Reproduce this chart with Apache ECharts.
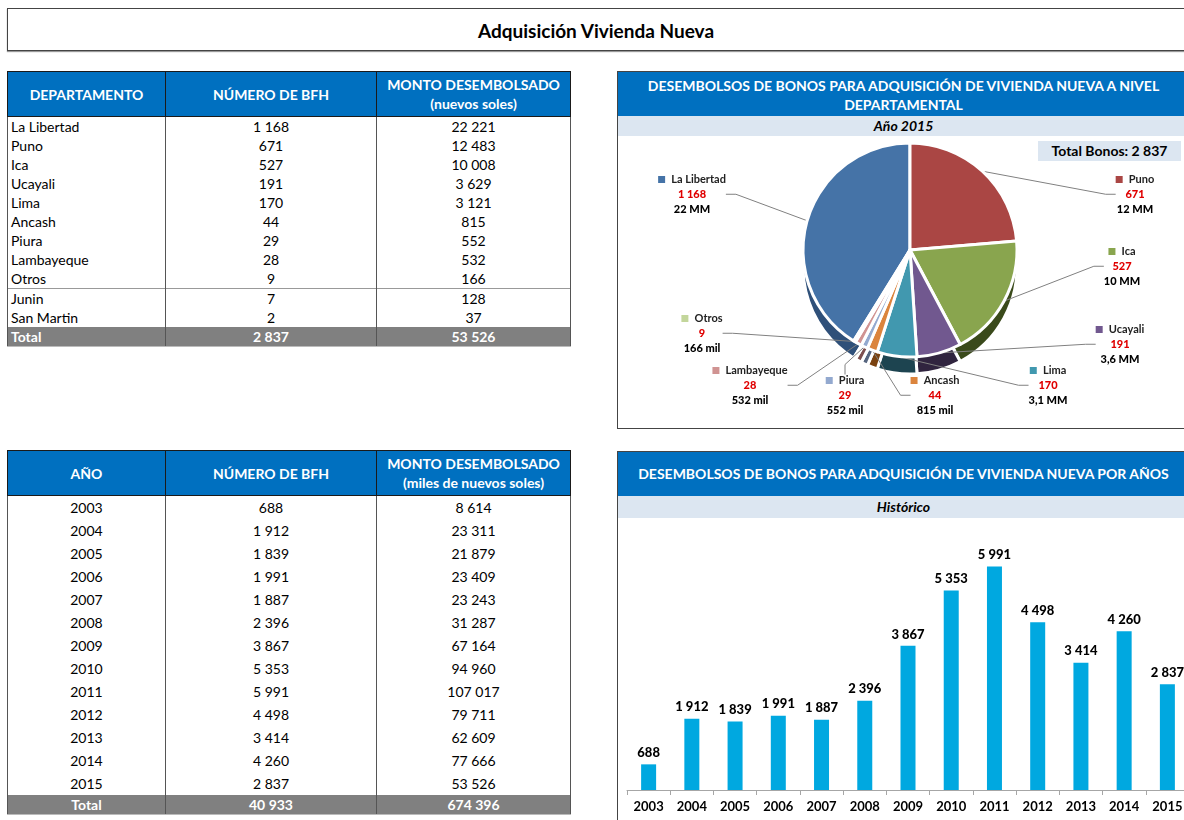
<!DOCTYPE html>
<html>
<head>
<meta charset="utf-8">
<script src="https://cdn.jsdelivr.net/npm/echarts@6/dist/echarts.min.js"></script>
<style>
  body { margin: 0; background: #fff; font-family: Lato, "Open Sans", sans-serif; }
  .hoja { position: relative; width: 1184px; height: 820px; overflow: hidden; }
  .titulo {
    position: absolute; left: 7px; top: 8px; width: 1190px; height: 43px;
    border: 1px solid #444; box-shadow: 0 1px 1px #999;
    font-weight: bold; font-size: 19px; line-height: 43px; text-align: center; padding-right: 12px; box-sizing: border-box;
  }
  .tabla { position: absolute; border-collapse: collapse; table-layout: fixed; width: 563px; font-size: 14px; color: #000; }
  .tabla th { background: #0070c0; color: #fff; font-weight: bold; font-size: 14px; border: 1px solid #1a1a1a; line-height: 19px; padding: 0; height: 44px; }
  .tabla td { border-left: 1px solid #555; border-right: 1px solid #555; padding: 0 3px; text-align: center; white-space: nowrap; }
  .tabla td:first-child { text-align: left; }
  .tabla.anios td:first-child { text-align: center; }
  .tabla tr.sep td { border-top: 1px solid #999; }
  .tabla tr.total td { background: #808080; color: #fff; font-weight: bold; height: 19px; border-bottom: 1px solid #bbb; }
  #tablaDep td { height: 19px; line-height: 19px; }
  #tablaAnio td { height: 23px; line-height: 23px; }
  #tablaAnio tr.total td { height: 19px; line-height: 19px; }
  .panel { position: absolute; left: 617px; width: 573px; border: 1px solid #444; box-sizing: border-box; }
  .cab { background: #0070c0; color: #fff; font-weight: bold; font-size: 14px; text-align: center; white-space: nowrap; }
  .sub { background: #dce6f1; font-weight: bold; font-style: italic; font-size: 14px; text-align: center; }
  .totalBonos { position: absolute; left: 420px; top: 69px; width: 143px; height: 20px; line-height: 20px; background: #dce6f1; font-weight: bold; font-size: 14px; text-align: center; z-index: 2; }
</style>
</head>
<body>
<div class="hoja">
  <div class="titulo">Adquisición Vivienda Nueva</div>

  <table class="tabla" id="tablaDep" style="left:7px; top:71px;">
    <colgroup><col style="width:158px"><col style="width:211px"><col style="width:194px"></colgroup>
    <thead><tr><th>DEPARTAMENTO</th><th>NÚMERO DE BFH</th><th>MONTO DESEMBOLSADO<br>(nuevos soles)</th></tr></thead>
    <tbody></tbody>
  </table>

  <table class="tabla anios" id="tablaAnio" style="left:7px; top:450px;">
    <colgroup><col style="width:158px"><col style="width:211px"><col style="width:194px"></colgroup>
    <thead><tr><th>AÑO</th><th>NÚMERO DE BFH</th><th>MONTO DESEMBOLSADO<br>(miles de nuevos soles)</th></tr></thead>
    <tbody></tbody>
  </table>

  <div class="panel" style="top:71px; height:358px;">
    <div class="cab" style="height:44px; line-height:19px; padding-top:4px; box-sizing:border-box;">DESEMBOLSOS DE BONOS PARA ADQUISICIÓN DE VIVIENDA NUEVA A NIVEL<br>DEPARTAMENTAL</div>
    <div class="sub" style="height:20px; line-height:20px;">Año 2015</div>
    <div class="totalBonos" id="totalBonos"></div>
    <div id="pie" style="position:absolute; left:0; top:64px; width:571px; height:292px;"></div>
  </div>

  <div class="panel" style="top:451px; height:380px;">
    <div class="cab" style="height:44px; line-height:44px;">DESEMBOLSOS DE BONOS PARA ADQUISICIÓN DE VIVIENDA NUEVA POR AÑOS</div>
    <div class="sub" style="height:22px; line-height:22px;">Histórico</div>
    <div id="barras" style="position:absolute; left:0; top:66px; width:571px; height:303px;"></div>
  </div>
</div>

<script>
// datos por departamento (2015)
const departamentos = ["La Libertad", "Puno", "Ica", "Ucayali", "Lima", "Ancash", "Piura", "Lambayeque", "Otros"];
const bfhDep = [1168, 671, 527, 191, 170, 44, 29, 28, 9];
const montoDep = [22221, 12483, 10008, 3629, 3121, 815, 552, 532, 166];
// detalle de "Otros"
const otrosNombres = ["Junin", "San Martin"];
const otrosBfh = [7, 2];
const otrosMonto = [128, 37];
const totalDep = [2837, 53526];

// datos por año
const anios = ["2003", "2004", "2005", "2006", "2007", "2008", "2009", "2010", "2011", "2012", "2013", "2014", "2015"];
const bfhAnio = [688, 1912, 1839, 1991, 1887, 2396, 3867, 5353, 5991, 4498, 3414, 4260, 2837];
const montoAnio = [8614, 23311, 21879, 23409, 23243, 31287, 67164, 94960, 107017, 79711, 62609, 77666, 53526];

const coloresPie = ["#4573a7", "#aa4644", "#89a54e", "#71588f", "#4198af", "#db843d", "#93a9cf", "#d09392", "#b9cd96"];
const coloresLado = ["#2f5079", "#5e1f1e", "#3a4a1b", "#30243f", "#1d4450", "#7a4210", "#56657f", "#7e4f4e", "#7d8e5f"];
const colorBarra = "#00a8e0";

// separador de miles con espacio
function fmt(n) {
  return String(n).replace(/\B(?=(\d{3})+(?!\d))/g, " ");
}
function montoCorto(v) {
  if (v >= 1000) {
    const mm = v / 1000;
    return (mm >= 10 ? Math.round(mm) : mm.toFixed(1).replace(".", ",")) + " MM";
  }
  return v + " mil";
}

// tablas
let filas = "";
departamentos.forEach((d, i) => {
  filas += `<tr><td>${d}</td><td>${fmt(bfhDep[i])}</td><td>${fmt(montoDep[i])}</td></tr>`;
});
otrosNombres.forEach((d, i) => {
  filas += `<tr class="${i === 0 ? "sep" : ""}"><td>${d}</td><td>${fmt(otrosBfh[i])}</td><td>${fmt(otrosMonto[i])}</td></tr>`;
});
filas += `<tr class="total"><td>Total</td><td>${fmt(totalDep[0])}</td><td>${fmt(totalDep[1])}</td></tr>`;
document.querySelector("#tablaDep tbody").innerHTML = filas;

filas = "";
anios.forEach((a, i) => {
  filas += `<tr><td>${a}</td><td>${fmt(bfhAnio[i])}</td><td>${fmt(montoAnio[i])}</td></tr>`;
});
const sumBfh = bfhAnio.reduce((a, b) => a + b, 0);
const sumMonto = montoAnio.reduce((a, b) => a + b, 0);
filas += `<tr class="total"><td>Total</td><td>${fmt(sumBfh)}</td><td>${fmt(sumMonto)}</td></tr>`;
document.querySelector("#tablaAnio tbody").innerHTML = filas;

document.getElementById("totalBonos").textContent = "Total Bonos: " + fmt(totalDep[0]);

// pie
const posEtiquetas = [[74, 36], [517, 36], [504, 108], [502, 186], [430, 227], [317, 237], [227, 237], [132, 227], [84, 175]];
const inicio = 90 + (bfhDep[0] / totalDep[0]) * 360; // Puno empieza arriba
const rich = {
  nom: { fontSize: 11, fontWeight: "bold", color: "#222", lineHeight: 15, fontFamily: "Lato" },
  val: { fontSize: 11, fontWeight: 900, color: "#e00000", lineHeight: 15, fontFamily: "Lato" },
  mon: { fontSize: 11, fontWeight: 900, color: "#000", lineHeight: 15, fontFamily: "Lato" },
};
coloresPie.forEach((c, i) => {
  rich["sq" + i] = { width: 7, height: 7, backgroundColor: i === 8 ? "#c3d69b" : c };
});
const pieData = departamentos.map((d, i) => ({ name: d, value: bfhDep[i] }));

const pie = echarts.init(document.getElementById("pie"));
pie.setOption({
  textStyle: { fontFamily: "Lato" },
  animation: false,
  series: [
    {
      type: "pie",
      silent: true,
      center: [292, 131],
      radius: 107,
      startAngle: inicio,
      z: 1,
      label: { show: false },
      labelLine: { show: false },
      itemStyle: { color: (p) => coloresLado[p.dataIndex], borderColor: "#fff", borderWidth: 3 },
      data: pieData,
    },
    {
      type: "pie",
      silent: true,
      center: [292, 114],
      radius: 107,
      startAngle: inicio,
      avoidLabelOverlap: false,
      z: 2,
      itemStyle: { color: (p) => coloresPie[p.dataIndex], borderColor: "#fff", borderWidth: 3 },
      label: {
        show: true,
        align: "center",
        formatter: (p) =>
          `{sq${p.dataIndex}|}  {nom|${p.name}}\n{val|${fmt(p.value)}}\n{mon|${montoCorto(montoDep[p.dataIndex])}}`,
        rich: rich,
      },
      labelLine: { show: true, length: 10, length2: 10, lineStyle: { color: "#808080", width: 1 } },
      labelLayout: (p) => ({
        x: posEtiquetas[p.dataIndex][0],
        y: posEtiquetas[p.dataIndex][1],
        align: "center",
        verticalAlign: "top",
      }),
      data: pieData,
    },
  ],
});

// barras
const barras = echarts.init(document.getElementById("barras"));
barras.setOption({
  textStyle: { fontFamily: "Lato" },
  animation: false,
  grid: { left: 9, right: 0, top: 11, bottom: 31 },
  xAxis: {
    type: "category",
    data: anios,
    axisLine: { lineStyle: { color: "#a6a6a6" } },
    axisTick: { show: true, length: 5, lineStyle: { color: "#a6a6a6" } },
    axisLabel: { color: "#000", fontWeight: "bold", fontSize: 13, margin: 10 },
  },
  yAxis: { type: "value", min: 0, max: 7000, show: false, splitLine: { show: false } },
  series: [
    {
      type: "bar",
      data: bfhAnio,
      barWidth: 15,
      itemStyle: { color: colorBarra },
      label: {
        show: true,
        position: "top",
        distance: 5,
        color: "#000",
        fontWeight: 900,
        fontSize: 13,
        formatter: (p) => fmt(p.value),
      },
    },
  ],
});
</script>
</body>
</html>
